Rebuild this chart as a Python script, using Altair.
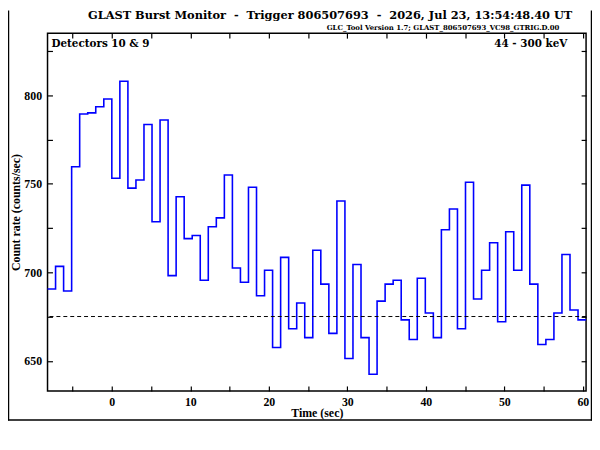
import altair as alt
import pandas as pd

# bin edges (s) of the 1.024 s light-curve bins
bin_edges = [-8.192, -7.168, -6.144, -5.120, -4.096, -3.072, -2.048, -1.024,
             0.000, 1.024, 2.048, 3.072, 4.096, 5.120, 6.144, 7.168, 8.192,
             9.216, 10.240, 11.264, 12.288, 13.312, 14.336, 15.360, 16.384,
             17.408, 18.432, 19.456, 20.480, 21.504, 22.528, 23.552, 24.576,
             25.600, 26.624, 27.648, 28.672, 29.696, 30.720, 31.744, 32.768,
             33.792, 34.816, 35.840, 36.864, 37.888, 38.912, 39.936, 40.960,
             41.984, 43.008, 44.032, 45.056, 46.080, 47.104, 48.128, 49.152,
             50.176, 51.200, 52.224, 53.248, 54.272, 55.296, 56.320, 57.344,
             58.368, 59.392, 60.416]

# count rate per bin (counts/sec)
rates = [690.5, 703.3, 689.4, 759.6, 789.4, 790.0, 793.5, 797.8,
         753.1, 807.9, 747.5, 752.1, 783.4, 728.5, 786.0, 698.1, 742.6,
         719.0, 720.8, 695.5, 725.7, 730.7, 754.9, 702.4, 694.4,
         748.0, 686.7, 701.1, 657.5, 708.4, 668.1, 682.6, 663.1,
         712.4, 693.3, 665.5, 740.2, 651.3, 704.4, 663.1, 642.4,
         683.7, 693.3, 695.5, 673.1, 662.0, 696.6, 677.0, 663.1,
         724.0, 735.7, 668.1, 750.8, 684.9, 701.1, 716.7, 672.0,
         722.9, 701.1, 749.2, 693.3, 659.2, 662.0, 677.0, 710.0,
         678.7, 673.1]

background_level = [675]

x_ticks = [-5, 0, 5, 10, 15, 20, 25, 30, 35, 40, 45, 50, 55, 60]
y_ticks = [650, 675, 700, 725, 750, 775, 800, 825]

NB = "\u00a0"
title_text = ("GLAST Burst Monitor" + NB + " - " + NB + "Trigger 806507693"
              + NB + " - " + NB + "2026, Jul 23, 13:54:48.40 UT")
subtitle_text = "GLC_Tool Version 1.7; GLAST_806507693_VC98_GTRIG.D.00"
left_label = "Detectors 10 & 9"
right_label = "44" + NB + "-" + NB + "300 keV"

x_domain = [bin_edges[0], bin_edges[-1]]
y_domain = [633, 835]

FONT = "Liberation Serif"
WIDE = "DejaVu Serif"

df = pd.DataFrame({"time": bin_edges, "rate": rates + [rates[-1]]})
df_bg = pd.DataFrame({"level": background_level})
one = pd.DataFrame({"a": [0]})

xs = alt.Scale(domain=x_domain, nice=False, zero=False)
ys = alt.Scale(domain=y_domain, nice=False, zero=False)

line = alt.Chart(df).mark_line(interpolate="step-after", color="#0000ff",
                               strokeWidth=1.6).encode(
    x=alt.X("time:Q", scale=xs,
            axis=alt.Axis(orient="bottom", values=x_ticks, offset=-5, tickSize=5,
                          domain=False, grid=False, labelPadding=6,
                          labelExpr="datum.value % 10 == 0 ? datum.label : ''",
                          title="Time (sec)", titlePadding=0)),
    y=alt.Y("rate:Q", scale=ys,
            axis=alt.Axis(orient="left", values=y_ticks, offset=-5, tickSize=5,
                          domain=False, grid=False, labelPadding=6,
                          labelExpr="datum.value % 50 == 0 ? datum.label : ''",
                          title="Count rate (counts/sec)", titlePadding=1)),
)

ghost = alt.Chart(df).mark_line(strokeOpacity=0).encode(
    x=alt.X("time:Q", scale=xs,
            axis=alt.Axis(orient="top", values=x_ticks, offset=-5, tickSize=5,
                          domain=False, grid=False, labels=False, title=None)),
    y=alt.Y("rate:Q", scale=ys,
            axis=alt.Axis(orient="right", values=y_ticks, offset=-5, tickSize=5,
                          domain=False, grid=False, labels=False, title=None)),
)

bg = alt.Chart(df_bg).mark_rule(color="black", strokeDash=[4, 3], strokeWidth=1).encode(
    y=alt.Y("level:Q", scale=ys, axis=None)
)

def txt(text, x, y, size, align="left", baseline="middle", font=FONT):
    return alt.Chart(one).mark_text(text=text, font=font, fontWeight="bold",
                                    fontSize=size, align=align, baseline=baseline,
                                    color="black").encode(
        x=alt.value(x), y=alt.value(y))

title = txt(title_text, 286, -17, 11.5, align="center", font=WIDE)
subtitle = txt(subtitle_text, 518, -5, 7, align="right", font=WIDE)
lab_l = txt(left_label, 4, 11, 10.5, align="left", font=WIDE)
lab_r = txt(right_label, 526, 11, 10.5, align="right", font=WIDE)

border = alt.Chart(one).mark_rule(color="black", strokeWidth=1.5).encode(
    x=alt.value(-39.5), y=alt.value(-23), y2=alt.value(392))
border_r = alt.Chart(one).mark_rule(color="black", strokeWidth=1.5).encode(
    x=alt.value(550.5), y=alt.value(-23), y2=alt.value(392))
border_b = alt.Chart(one).mark_rule(color="black", strokeWidth=1.5).encode(
    x=alt.value(-40), x2=alt.value(551), y=alt.value(391.5))

chart = alt.layer(line, ghost, bg, title, subtitle, lab_l, lab_r,
                  border, border_r, border_b).resolve_axis(
    x="independent", y="independent"
).properties(
    width=545, height=362,
    autosize=alt.AutoSizeParams(type="none"),
    padding={"left": 40, "top": 23, "right": 6, "bottom": 30},
    background="white",
).configure_view(
    stroke="black", strokeWidth=1.5
).configure_axis(
    labelFont=FONT, labelFontWeight="bold", labelFontSize=12, labelColor="black",
    titleFont=FONT, titleFontWeight="bold", titleFontSize=12, titleColor="black",
    tickColor="black", tickWidth=1.2,
)

chart.save("out.html", embed_options={"renderer": "svg", "actions": False})
